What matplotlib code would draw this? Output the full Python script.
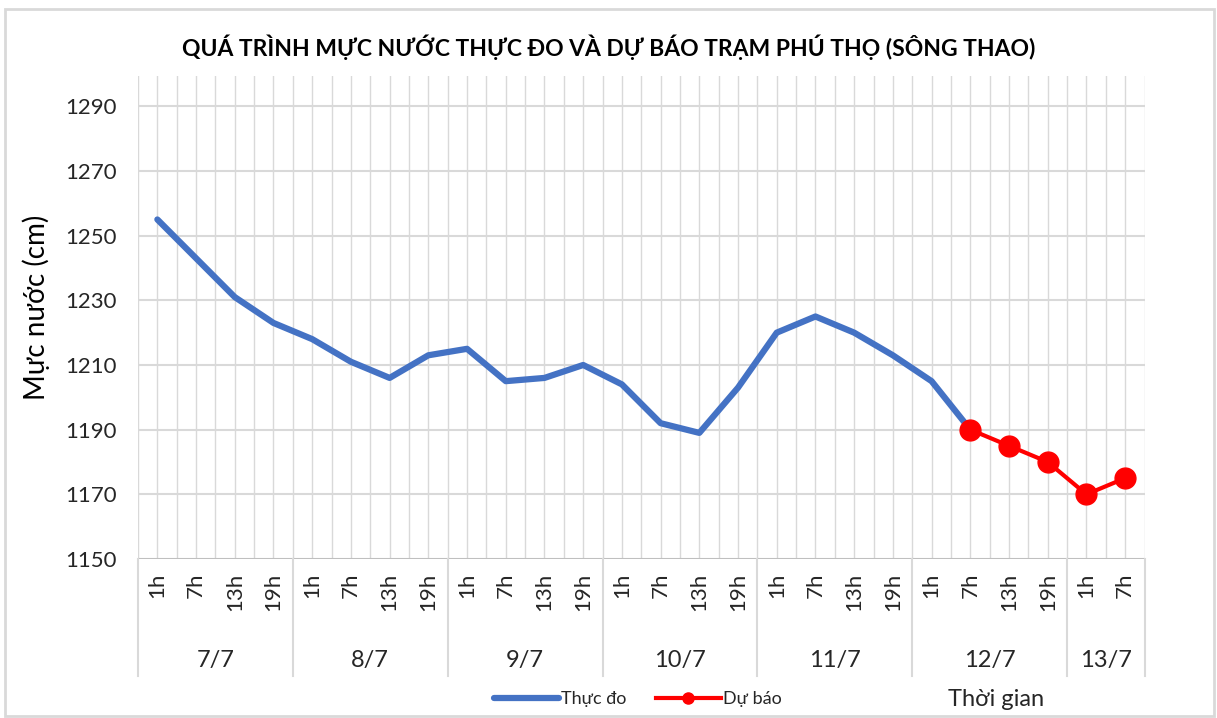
import matplotlib
matplotlib.use("Agg")
import matplotlib.pyplot as plt
from matplotlib import transforms
from matplotlib.lines import Line2D
from matplotlib.patches import Rectangle

plt.rcParams['font.family'] = ['Lato', 'DejaVu Sans']

# ---------------- data ----------------
days = ["7/7", "8/7", "9/7", "10/7", "11/7", "12/7", "13/7"]
hours_per_day = [["1h", "7h", "13h", "19h"]] * 6 + [["1h", "7h"]]
observed = [1255, 1243, 1231, 1223,
            1218, 1211, 1206, 1213,
            1215, 1205, 1206, 1210,
            1204, 1192, 1189, 1203,
            1220, 1225, 1220, 1213,
            1205, 1190]
forecast = [1190, 1185, 1180, 1170, 1175]   # from 12/7 7h to 13/7 7h
y_ticks = [1150, 1170, 1190, 1210, 1230, 1250, 1270, 1290]
title = "QUÁ TRÌNH MỰC NƯỚC THỰC ĐO VÀ DỰ BÁO TRẠM PHÚ THỌ (SÔNG THAO)"
y_label = "Mực nước (cm)"
x_label = "Thời gian"
legend_labels = ["Thực đo", "Dự báo"]

# --------------- layout ---------------
W, H = 1217, 718
fig = plt.figure(figsize=(W / 100, H / 100), dpi=100)

def fx(px):
    return px / W

def fy(py):
    return 1 - py / H

left, right, top, bottom = 138, 1144.5, 76, 559
ax = fig.add_axes([fx(left), fy(bottom), fx(right - left), (bottom - top) / H])

hour_labels = [h for hs in hours_per_day for h in hs]
n = len(hour_labels)
xs = list(range(n))
obs_x = xs[:len(observed)]
fc_x = xs[len(observed) - 1:len(observed) - 1 + len(forecast)]

grid_c = "#d9d9d9"
ax.set_xlim(-0.5, n - 0.5)
ymin = y_ticks[0]
ymax = y_ticks[0] + (y_ticks[-1] - y_ticks[0]) * (bottom - top) / (559 - 106.3)
ax.set_ylim(ymin, ymax)

# grid
for k in range(2 * n + 1):
    ax.axvline(-0.5 + 0.5 * k, color=grid_c, lw=1.0, zorder=0)
for t in y_ticks[1:]:
    ax.axhline(t, color=grid_c, lw=1.5, zorder=0)
ax.axhline(y_ticks[0], color="#bfbfbf", lw=1.5, zorder=1)

ax.plot(obs_x, observed, color="#4472C4", lw=4.5, solid_capstyle="round",
        solid_joinstyle="round", zorder=3, label=legend_labels[0])
ax.plot(fc_x, forecast, color="#FF0000", lw=3.0, marker="o", markersize=15,
        zorder=4, label=legend_labels[1])

for s in ax.spines.values():
    s.set_visible(False)
ax.set_xticks([])
ax.set_yticks(y_ticks)
ax.set_yticklabels([str(t) for t in y_ticks], fontsize=16, color="#262626")
ax.tick_params(axis="y", length=0, pad=15)

# category axis (two-level)
tr = transforms.blended_transform_factory(ax.transData, fig.transFigure)
for x, lab in zip(xs, hour_labels):
    fig.text(x, fy(573), lab, transform=tr, rotation=90, ha="center", va="top",
             fontsize=16, color="#262626")
start = 0
bounds = [-0.5]
for d, hs in zip(days, hours_per_day):
    center = start + (len(hs) - 1) / 2
    fig.text(center, fy(660), d, transform=tr, ha="center", va="center",
             fontsize=17, color="#262626")
    start += len(hs)
    bounds.append(start - 0.5)
for b in bounds:
    fig.add_artist(Line2D([b, b], [fy(559), fy(676)], transform=tr,
                          color=grid_c, lw=1.5))

# texts
fig.text(fx(608.5), fy(47), title, ha="center", va="center", fontsize=16.5,
         fontweight="bold", color="#000000")
fig.text(fx(36), fy(307), y_label, rotation=90, ha="center", va="center",
         fontsize=20, color="#000000")
fig.text(fx(996), fy(699), x_label, ha="center", va="center", fontsize=17,
         color="#262626")

h1 = Line2D([], [], color="#4472C4", lw=4.5, solid_capstyle="round")
h2 = Line2D([], [], color="#FF0000", lw=3.0, marker="o", markersize=8)
fig.legend([h1, h2], legend_labels, loc="center", bbox_to_anchor=(fx(638), fy(699)),
           ncol=2, frameon=False, fontsize=13, handlelength=3.6, handletextpad=0.15,
           columnspacing=1.6, labelcolor="#262626")

fig.add_artist(Rectangle((fx(5), fy(716)), fx(1214 - 5), (716 - 9) / H,
                         transform=fig.transFigure, fill=False,
                         edgecolor=grid_c, lw=2))

fig.savefig("out.png", dpi=100, facecolor="white")
